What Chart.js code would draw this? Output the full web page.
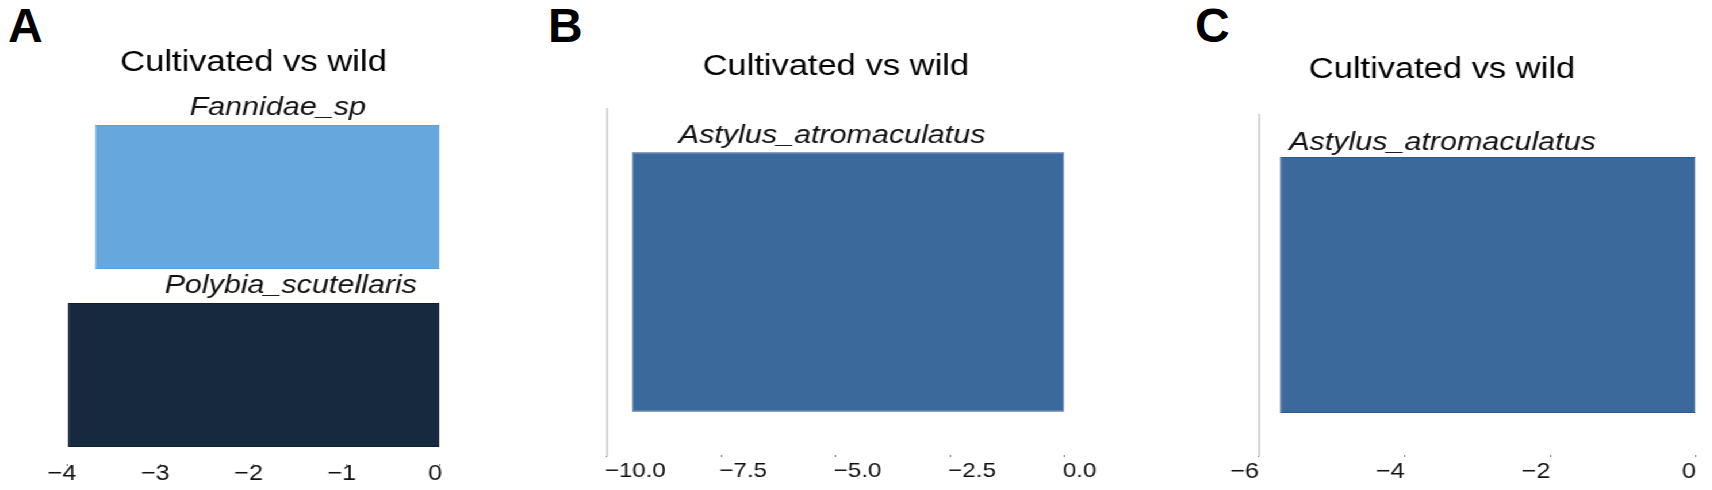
<!DOCTYPE html>
<html>
<head>
<meta charset="utf-8">
<script src="https://cdn.jsdelivr.net/npm/chart.js@4.4.1/dist/chart.umd.min.js"></script>
<style>
  body { margin: 0; background: #fff; width: 1712px; height: 490px; overflow: hidden; position: relative; }
  #stretch { position: absolute; left: 0; top: 0; height: 490px; transform-origin: 0 0; }
  #stretch canvas { position: absolute; top: 0; }
  .tag { position: absolute; top: 2px; font: bold 48px 'Liberation Sans', Arial, sans-serif; line-height: 1; color: #000; }
</style>
</head>
<body>
<div class="tag" style="left:8px">A</div>
<div class="tag" style="left:548px">B</div>
<div class="tag" style="left:1195px">C</div>
<div id="stretch">
  <canvas id="chartA"></canvas>
  <canvas id="chartB"></canvas>
  <canvas id="chartC"></canvas>
</div>
<script>
// the published figure is wider than it is tall, so draw narrow and widen the whole strip
const SX = 1.15;

// Panel A
const namesA = ['Fannidae_sp', 'Polybia_scutellaris'];
const valuesA = [-3.70, -3.99];
const namePosA = [-1.74, -1.60]; // centre of each species name, in axis units
const ticksA = [-4, -3, -2, -1, 0];

// Panel B
const namesB = ['Astylus_atromaculatus'];
const valuesB = [-9.45];
const namePosB = [-5.08];
const ticksB = [-10, -7.5, -5, -2.5, 0];

// Panel C
const namesC = ['Astylus_atromaculatus'];
const valuesC = [-5.71];
const namePosC = [-3.48];
const ticksC = [-6, -4, -2, 0];

const FONT = "'Liberation Sans', Arial, Helvetica, sans-serif";
Chart.defaults.font.family = FONT;
Chart.defaults.color = '#111';

// species name written just above each bar
const barNames = {
    id: 'barNames',
    afterDatasetsDraw(chart, args, opts) {
        const ctx = chart.ctx;
        const xScale = chart.scales.x;
        ctx.save();
        ctx.font = 'italic ' + opts.size + 'px ' + FONT;
        ctx.fillStyle = '#111';
        ctx.textAlign = 'center';
        ctx.textBaseline = 'alphabetic';
        chart.getDatasetMeta(0).data.forEach(function (bar, i) {
            const top = bar.y - bar.height / 2;
            ctx.fillText(chart.data.labels[i], xScale.getPixelForValue(opts.positions[i]), top - opts.gap);
        });
        ctx.restore();
    }
};

function fmt(digits) {
    return function (v) {
        const s = Math.abs(v).toFixed(digits);
        return v < 0 ? '\u2212' + s : s;
    };
}

// look: pixel layout measured on the reference (before the sideways stretch)
function makePanel(id, names, values, namePos, xTicks, digits, look) {
    const canvas = document.getElementById(id);
    const left = look.canvas[0] / SX;
    canvas.width = Math.round((look.canvas[1] - look.canvas[0]) / SX);
    canvas.height = 490;
    canvas.style.left = left + 'px';

    const titleLH = look.titleSize * 1.2;
    const titleTop = look.titleMid - titleLH / 2;
    const tickPad = look.tickMid - look.plot[3] - 2 - look.tickSize * 1.2 / 2;

    return new Chart(canvas, {
        type: 'bar',
        data: {
            labels: names,
            datasets: [{
                data: values,
                backgroundColor: look.colors,
                borderColor: look.edges,
                borderWidth: 1,
                borderSkipped: false,
                barPercentage: look.barPct,
                categoryPercentage: 1
            }]
        },
        options: {
            indexAxis: 'y',
            responsive: false,
            animation: false,
            layout: {
                padding: {
                    left: (look.plot[0] - look.yAxisW) / SX - left,
                    right: left + canvas.width - look.plot[1] / SX,
                    top: titleTop,
                    bottom: 0
                }
            },
            plugins: {
                legend: { display: false },
                tooltip: { enabled: false },
                title: {
                    display: true,
                    text: 'Cultivated vs wild',
                    color: '#000',
                    font: { size: look.titleSize, weight: 'normal' },
                    padding: { top: 0, bottom: look.plot[2] - titleTop - titleLH }
                },
                barNames: { positions: namePos, size: look.nameSize, gap: look.nameGap }
            },
            scales: {
                x: {
                    type: 'linear',
                    min: xTicks[0],
                    max: xTicks[xTicks.length - 1],
                    afterBuildTicks: function (ax) { ax.ticks = xTicks.map(v => ({ value: v })); },
                    afterFit: function (ax) { ax.height = 490 - look.plot[3]; },
                    border: { display: false },
                    grid: { display: true, drawOnChartArea: false, drawTicks: true, tickLength: 2, color: '#777', lineWidth: 1 },
                    ticks: {
                        autoSkip: false,
                        maxRotation: 0,
                        align: look.tickAlign,
                        labelOffset: look.tickShift / SX,
                        padding: tickPad,
                        color: '#111',
                        font: { size: look.tickSize },
                        callback: fmt(digits)
                    }
                },
                y: {
                    afterFit: function (ax) { ax.width = look.yAxisW / SX; },
                    ticks: { display: false },
                    grid: { display: false },
                    border: look.axisLine ? { display: true, color: '#d6d6d6', width: 2 } : { display: false }
                }
            }
        },
        plugins: [barNames]
    });
}

document.getElementById('stretch').style.width = (1712 / SX) + 'px';
document.getElementById('stretch').style.transform = 'scaleX(' + SX + ')';

makePanel('chartA', namesA, valuesA, namePosA, ticksA, 0, {
    canvas: [0, 500], plot: [67, 440, 108, 464], yAxisW: 0,
    titleMid: 63, titleSize: 30, nameSize: 26.5, nameGap: 10, barPct: 0.81,
    colors: ['#66a8de', '#17293e'], edges: ['#5d9fd6', '#0f1d2d'], axisLine: false,
    tickSize: 22, tickMid: 474, tickAlign: 'center', tickShift: -5
});

makePanel('chartB', namesB, valuesB, namePosB, ticksB, 1, {
    canvas: [520, 1140], plot: [607, 1065, 109, 455], yAxisW: 0,
    titleMid: 66.5, titleSize: 30, nameSize: 26.5, nameGap: 9, barPct: 0.75,
    colors: ['#3b699c'], edges: ['#2e5a8a'], axisLine: true,
    tickSize: 21, tickMid: 471, tickAlign: 'start', tickShift: -2
});

makePanel('chartC', namesC, valuesC, namePosC, ticksC, 0, {
    canvas: [1150, 1712], plot: [1259, 1696, 115, 455], yAxisW: 71,
    titleMid: 70, titleSize: 30, nameSize: 26.5, nameGap: 7, barPct: 0.753,
    colors: ['#3b699c'], edges: ['#2e5a8a'], axisLine: true,
    tickSize: 22, tickMid: 472, tickAlign: 'end', tickShift: 0
});
</script>
</body>
</html>
